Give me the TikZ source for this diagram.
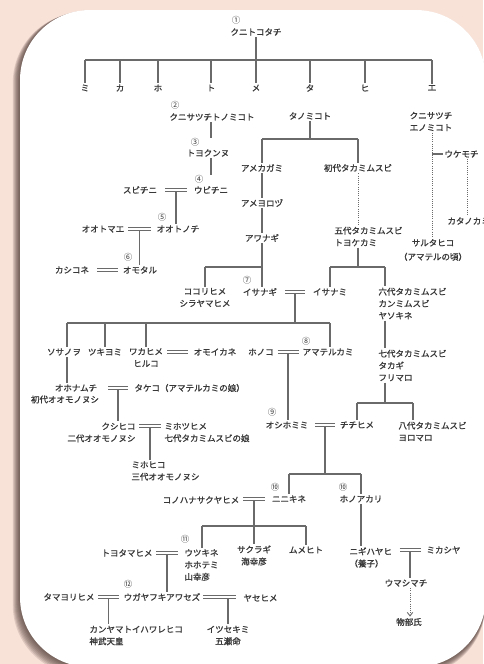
\documentclass[tikz,border=0pt]{standalone}
\usepackage{fontspec}
\newfontfamily\jp[FakeBold=1.2]{Noto Sans CJK JP}
\newfontfamily\jpn{Noto Sans CJK JP}
\usetikzlibrary{arrows.meta}
\definecolor{bgc}{HTML}{F8E1D7}
\definecolor{shc}{HTML}{4E3A35}
\definecolor{lc}{HTML}{6A6A6A}
\definecolor{tc}{HTML}{383838}
\begin{document}
\begin{tikzpicture}[x=1pt,y=-1pt,
  nm/.style={font=\jp\fontsize{8.5}{12}\selectfont, text=tc, inner sep=0pt, outer sep=1.5pt, align=center},
  nml/.style={nm, align=left, anchor=west},
  nmr/.style={nm, align=right, anchor=east},
  num/.style={font=\jpn\fontsize{8.5}{8.5}\selectfont, text=tc, inner sep=0pt},
  ln/.style={draw=lc, line width=1.2pt},
  dbl/.style={draw=lc, line width=1pt, double=white, double distance=1.5pt},
  dot/.style={draw=lc, line width=1pt, dash pattern=on 1pt off 1.2pt}]
\useasboundingbox (0,0) rectangle (483,664);
% background and card
\fill[bgc] (0,0) rectangle (483,664);
\foreach \i in {1,...,8}{
  \fill[shc, opacity=0.15, rounded corners=70pt] ({20-0.9*\i},{10+0.35*\i}) rectangle ({486-0.1*\i},{667+1.0*\i});
}
\fill[white, rounded corners=70pt] (20,10) rectangle (486,667);

% generation 1
\node[num] (c1) at (236,20) {①};
\node[nm] (kuni) at (256,32) {クニトコタチ};
\foreach \n/\x/\t in {mi/85/ミ,ka/120/カ,ho/158/ホ,to/211/ト,me/256/メ,ta/310/タ,hi/365/ヒ,e/432/エ}
  \node[nm] (\n) at (\x,88) {\t};
\coordinate (bar1) at (0,60);
\draw[ln] (kuni) -- (me);
\draw[ln] (mi.north |- bar1) -- (e.north |- bar1);
\foreach \n in {mi,ka,ho,to,ta,hi,e} \draw[ln] (\n.north |- bar1) -- (\n.north);

% generations 2-6
\node[num] (c2) at (175,105) {②};
\node[nm] (kunisa) at (212,117) {クニサツチトノミコト};
\node[num] (c3) at (195,142) {③};
\node[nm] (toyokun) at (208,153) {トヨクンヌ};
\node[num] (c4) at (199,179) {④};
\node[nm] (ubichini) at (211,190) {ウビチニ};
\node[nm] (subichini) at (140,190) {スビチニ};
\node[num] (c5) at (162,217) {⑤};
\node[nm] (ootonochi) at (178,229) {オオトノチ};
\node[nm] (ootomae) at (103,229) {オオトマエ};
\node[num] (c6) at (128,257) {⑥};
\node[nm] (omotaru) at (140,270) {オモタル};
\node[nm] (kashikone) at (72,270) {カシコネ};
\coordinate (v211) at (211,0);
\draw[ln] (v211 |- kunisa.south) -- (v211 |- c3.north);
\draw[ln] (v211 |- toyokun.south) -- (v211 |- c4.north);
\coordinate (m1) at (176,190);
\draw[dbl] ([xshift=-11pt]m1) -- ([xshift=11pt]m1);
\draw[ln] ([yshift=-2pt]m1) -- (m1 |- ootonochi.north);
\coordinate (m2) at (139.5,229);
\draw[dbl] ([xshift=-11.5pt]m2) -- ([xshift=11.5pt]m2);
\draw[ln] ([yshift=-2pt]m2) -- (m2 |- omotaru.north);
\coordinate (m3) at (107.5,270);
\draw[dbl] ([xshift=-10.5pt]m3) -- ([xshift=10.5pt]m3);

% Tanomikoto branch
\node[nm] (tanomi) at (310,116) {タノミコト};
\node[nm] (amekagami) at (262,168) {アメカガミ};
\node[nm] (ameyorozu) at (262,203) {アメヨロヅ};
\node[nm] (awanagi) at (262,238) {アワナギ};
\node[nm] (shodai) at (358,168) {初代タカミムスビ};
\node[nml] (godai) at (333,236.5) {五代タカミムスビ\\トヨケカミ};
\coordinate (bar2) at (0,139);
\draw[ln] (tanomi) -- (tanomi |- bar2);
\draw[ln] (amekagami |- bar2) -- (shodai |- bar2);
\draw[ln] (amekagami |- bar2) -- (amekagami);
\draw[ln] (shodai |- bar2) -- (shodai);
\draw[ln] (amekagami) -- (ameyorozu);
\draw[ln] (ameyorozu) -- (awanagi);
\draw[dot] (shodai) -- (shodai |- godai.north);
\coordinate (v358) at (358,0);
\coordinate (bar3) at (0,267);
\coordinate (v385) at (385,0);
\node[nm] (isanami) at (330,292) {イサナミ};
\node[nml] (rokudai) at (377,303.5) {六代タカミムスビ\\カンミムスビ\\ヤソキネ};
\draw[ln] (v358 |- godai.south) -- (v358 |- bar3);
\draw[ln] (isanami |- bar3) -- (v385 |- bar3);
\draw[ln] (isanami |- bar3) -- (isanami);
\draw[ln] (v385 |- bar3) -- (v385 |- rokudai.north);

% Awanagi children
\node[nm] (kokori) at (205,297.5) {ココリヒメ\\シラヤマヒメ};
\node[num] (c7) at (247,280) {⑦};
\node[nm] (isanagi) at (260,292) {イサナギ};
\draw[ln] (awanagi) -- (awanagi |- isanagi.north);
\draw[ln] (kokori |- bar3) -- (awanagi |- bar3);
\draw[ln] (kokori |- bar3) -- (kokori);

% Izanagi + Izanami children
\coordinate (m4) at (295,292);
\draw[dbl] ([xshift=-10pt]m4) -- ([xshift=10pt]m4);
\coordinate (bar4) at (0,323);
\draw[ln] ([yshift=-2pt]m4) -- (m4 |- bar4);
\node[nm] (susa) at (64,352) {ソサノヲ};
\node[nm] (tsuki) at (105,352) {ツキヨミ};
\node[nm] (waka) at (146,357.5) {ワカヒメ\\ヒルコ};
\node[nm] (omoi) at (215,352) {オモイカネ};
\node[nm] (hono) at (261,352) {ホノコ};
\node[num] (c8) at (306,341) {⑧};
\node[nm] (amateru) at (328,352) {アマテルカミ};
\coordinate (v67) at (67,0);
\coordinate (v330) at (330,0);
\draw[ln] (v67 |- bar4) -- (v330 |- bar4);
\draw[ln] (v67 |- bar4) -- (v67 |- susa.north);
\draw[ln] (tsuki |- bar4) -- (tsuki);
\draw[ln] (waka |- bar4) -- (waka);
\draw[ln] (v330 |- bar4) -- (v330 |- amateru.north);
\coordinate (m5) at (177.5,352);
\draw[dbl] ([xshift=-10.5pt]m5) -- ([xshift=10.5pt]m5);
\coordinate (m6) at (288,352);
\draw[dbl] ([xshift=-10.5pt]m6) -- ([xshift=10.5pt]m6);

% Takamimusubi line
\node[nml] (nanadai) at (377,365.5) {七代タカミムスビ\\タカギ\\フリマロ};
\draw[ln] (v385 |- rokudai.south) -- (v385 |- nanadai.north);
\coordinate (bar5) at (0,403);
\coordinate (v413) at (413,0);
\node[num] (c9) at (272,412) {⑨};
\node[nm] (oshiho) at (287,425) {オシホミミ};
\node[nm] (chichi) at (357,425) {チチヒメ};
\node[nml] (hachidai) at (397,431.5) {八代タカミムスビ\\ヨロマロ};
\draw[ln] ([yshift=-2pt]m6) -- (m6 |- oshiho.north);
\draw[ln] (v385 |- nanadai.south) -- (v385 |- bar5);
\draw[ln] (chichi |- bar5) -- (v413 |- bar5);
\draw[ln] (chichi |- bar5) -- (chichi);
\draw[ln] (v413 |- bar5) -- (v413 |- hachidai.north);

% Sosanowo line
\node[nm] (ohona) at (76,388) {オホナムチ};
\node[nm] (shodaioo) at (65,399.5) {初代オオモノヌシ};
\draw[ln] (v67 |- susa.south) -- (v67 |- ohona.north);
\coordinate (m7) at (118,388);
\draw[dbl] ([xshift=-10pt]m7) -- ([xshift=10pt]m7);
\node[nml] (takeko) at (133,388) {タケコ（アマテルカミの娘）};
\node[nmr] (kushi) at (137,432.5) {クシヒコ\\二代オオモノヌシ};
\draw[ln] ([yshift=-2pt]m7) -- (m7 |- kushi.north);
\coordinate (m8) at (150,426);
\draw[dbl] ([xshift=-11pt]m8) -- ([xshift=11pt]m8);
\node[nml] (mihotsu) at (163,432.5) {ミホツヒメ\\七代タカミムスビの娘};
\node[nml] (mihohiko) at (130,471) {ミホヒコ\\三代オオモノヌシ};
\draw[ln] ([yshift=-2pt]m8) -- (m8 |- mihohiko.north);

% Oshihomimi + Chichihime
\coordinate (m9) at (325,425);
\draw[dbl] ([xshift=-10pt]m9) -- ([xshift=10pt]m9);
\coordinate (bar6) at (0,474);
\draw[ln] ([yshift=-2pt]m9) -- (m9 |- bar6);
\node[num] (c10a) at (275,487) {⑩};
\node[nm] (ninikine) at (289,499) {ニニキネ};
\node[num] (c10b) at (343,487) {⑩};
\node[nm] (honoaka) at (361,499) {ホノアカリ};
\draw[ln] (ninikine |- bar6) -- (honoaka |- bar6);
\draw[ln] (ninikine |- bar6) -- (ninikine);
\draw[ln] (honoaka |- bar6) -- (honoaka);

% Ninikine + Konohanasakuyahime
\node[nm] (konohana) at (201,500) {コノハナサクヤヒメ};
\coordinate (m10) at (254,499);
\draw[dbl] ([xshift=-11pt]m10) -- ([xshift=11pt]m10);
\coordinate (bar7) at (0,526);
\coordinate (v202) at (202,0);
\node[num] (c11) at (185,539) {⑪};
\node[nml] (utsukine) at (183,565) {ウツキネ\\ホホテミ\\山幸彦};
\node[nm] (sakuragi) at (254,555.5) {サクラギ\\海幸彦};
\node[nm] (mumehito) at (306,550) {ムメヒト};
\draw[ln] ([yshift=-2pt]m10) -- (m10 |- sakuragi.north);
\draw[ln] (v202 |- bar7) -- (mumehito |- bar7);
\draw[ln] (v202 |- bar7) -- (v202 |- utsukine.north);
\draw[ln] (mumehito |- bar7) -- (mumehito);

% Honoakari line
\node[nml] (nigi) at (348,557.5) {ニギハヤヒ\\（養子）};
\draw[ln] (honoaka) -- (honoaka |- nigi.north);
\coordinate (m11) at (410,550);
\draw[dbl] ([xshift=-10.5pt]m11) -- ([xshift=10.5pt]m11);
\node[nml] (mikashiya) at (425,550) {ミカシヤ};
\node[nm] (umashi) at (406,583) {ウマシマチ};
\draw[ln] ([yshift=-2pt]m11) -- (m11 |- umashi.north);
\node[nm] (mono) at (409,622) {物部氏};
\draw[dot, -{Straight Barb[length=3.5pt,width=5.5pt,line width=0.9pt]}] (m11 |- umashi.south) -- (m11 |- mono.north);

% Utsukine line
\node[nm] (toyotama) at (127,553) {トヨタマヒメ};
\coordinate (m12) at (167,553);
\draw[dbl] ([xshift=-11pt]m12) -- ([xshift=11pt]m12);
\node[num] (c12) at (128,584) {⑫};
\node[nm] (ugaya) at (162,597) {ウガヤフキアワセズ};
\draw[ln] ([yshift=-2pt]m12) -- (m12 |- ugaya.north);
\node[nm] (tamayori) at (69,597) {タマヨリヒメ};
\coordinate (m13) at (108.5,597);
\draw[dbl] ([xshift=-10.5pt]m13) -- ([xshift=10.5pt]m13);
\node[nml] (kanyamato) at (88,635.5) {カンヤマトイハワレヒコ\\神武天皇};
\draw[ln] ([yshift=-2pt]m13) -- (m13 |- kanyamato.north);
\coordinate (m14) at (228,597);
\draw[dbl] ([xshift=-25pt]m14) -- ([xshift=8pt]m14);
\node[nml] (yase) at (242,598) {ヤセヒメ};
\node[nm] (itsuse) at (228,635.5) {イツセキミ\\五瀬命};
\draw[ln] ([yshift=-2pt]m14) -- (m14 |- itsuse.north);

% Kunisatsuchi branch (right)
\node[nm] (kunisat) at (431,121.5) {クニサツチ\\エノミコト};
\node[nm] (saruta) at (433,250) {サルタヒコ\\[2pt]（アマテルの頃）};
\coordinate (v432) at (432,0);
\coordinate (v467) at (467,0);
\draw[dot] (v432 |- kunisat.south) -- (v432 |- saruta.north);
\node[nm, anchor=west] (ukemochi) at (443,154) {ウケモチ};
\node[nm, anchor=west] (katano) at (446,221) {カタノカミ};
\draw[ln] (v432 |- ukemochi) -- (ukemochi.west);
\draw[dot] (v467 |- ukemochi.south) -- (v467 |- katano.north);
\end{tikzpicture}
\end{document}
